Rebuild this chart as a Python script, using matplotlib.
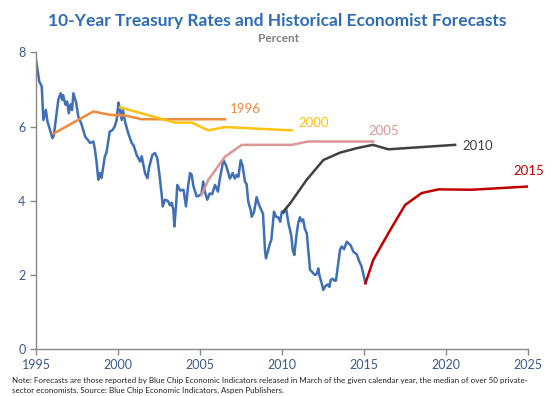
import matplotlib
matplotlib.use("Agg")
import matplotlib.pyplot as plt

plt.rcParams['font.family'] = ['Lato', 'DejaVu Sans']

# 10-year treasury yield
treasury_years = [
    1995.00, 1995.20, 1995.35, 1995.45, 1995.60, 1995.70, 1995.85, 1996.00, 1996.08, 1996.36,
    1996.50, 1996.60, 1996.65, 1996.80, 1996.90, 1997.00, 1997.10, 1997.20, 1997.28, 1997.45,
    1997.58, 1997.79, 1998.00, 1998.15, 1998.30, 1998.50, 1998.60, 1998.70, 1998.80, 1998.90,
    1999.00, 1999.10, 1999.20, 1999.30, 1999.50, 1999.65, 1999.80, 1999.92, 2000.03, 2000.10,
    2000.23, 2000.30, 2000.45, 2000.63, 2000.84, 2000.95, 2001.14, 2001.35, 2001.45, 2001.65,
    2001.80, 2001.90, 2002.10, 2002.26, 2002.40, 2002.52, 2002.67, 2002.73, 2002.87, 2003.05,
    2003.17, 2003.28, 2003.38, 2003.44, 2003.55, 2003.62, 2003.80, 2004.00, 2004.15, 2004.28,
    2004.40, 2004.50, 2004.60, 2004.80, 2005.00, 2005.10, 2005.20, 2005.30, 2005.45, 2005.60,
    2005.75, 2005.92, 2006.10, 2006.20, 2006.43, 2006.60, 2006.73, 2006.83, 2007.00, 2007.13,
    2007.25, 2007.35, 2007.49, 2007.60, 2007.75, 2007.85, 2007.95, 2008.10, 2008.16, 2008.30,
    2008.46, 2008.60, 2008.75, 2008.85, 2008.97, 2009.03, 2009.12, 2009.28, 2009.36, 2009.52,
    2009.65, 2009.80, 2009.90, 2010.00, 2010.10, 2010.26, 2010.40, 2010.58, 2010.66, 2010.76,
    2010.90, 2011.00, 2011.10, 2011.20, 2011.30, 2011.40, 2011.52, 2011.62, 2011.72, 2011.82,
    2011.95, 2012.05, 2012.15, 2012.22, 2012.30, 2012.43, 2012.53, 2012.65, 2012.80, 2012.90,
    2012.98, 2013.10, 2013.20, 2013.30, 2013.55, 2013.65, 2013.80, 2013.96, 2014.20, 2014.36,
    2014.57, 2014.73, 2014.86, 2015.01, 2015.10,
]
treasury_rates = [
    7.80, 7.22, 7.08, 6.18, 6.45, 6.14, 5.91, 5.69, 5.75, 6.72,
    6.90, 6.72, 6.85, 6.59, 6.68, 6.36, 6.60, 6.45, 6.90, 6.65,
    6.27, 6.05, 5.73, 5.65, 5.56, 5.60, 5.37, 5.02, 4.57, 4.75,
    4.62, 4.92, 5.20, 5.30, 5.87, 5.90, 6.00, 6.18, 6.65, 6.50,
    6.18, 6.45, 6.10, 5.82, 5.56, 5.50, 5.24, 5.06, 5.20, 4.75,
    4.61, 4.90, 5.24, 5.29, 5.15, 4.75, 4.16, 3.85, 4.03, 4.00,
    3.88, 3.95, 3.76, 3.31, 3.90, 4.43, 4.28, 4.30, 3.85, 4.40,
    4.75, 4.70, 4.40, 4.12, 4.15, 4.20, 4.52, 4.25, 4.03, 4.20,
    4.18, 4.43, 4.25, 4.55, 5.10, 4.95, 4.75, 4.60, 4.75, 4.60,
    4.70, 4.65, 5.10, 4.95, 4.52, 4.45, 3.98, 3.75, 3.57, 3.70,
    4.10, 3.90, 3.75, 3.65, 2.68, 2.45, 2.60, 2.86, 2.95, 3.71,
    3.57, 3.55, 3.44, 3.71, 3.67, 3.80, 3.40, 3.05, 2.68, 2.54,
    3.10, 3.40, 3.56, 3.45, 3.50, 3.25, 3.13, 2.63, 2.14, 2.10,
    2.03, 2.00, 2.05, 2.18, 1.98, 1.78, 1.60, 1.70, 1.75, 1.68,
    1.87, 1.90, 1.85, 1.85, 2.68, 2.77, 2.70, 2.90, 2.80, 2.63,
    2.56, 2.36, 2.24, 1.96, 1.78,
]

# Blue Chip forecasts
fc1996_years = [1996.06, 1998.50, 1999.50, 2000.45, 2001.45, 2006.53]
fc1996_rates = [5.81, 6.41, 6.32, 6.30, 6.20, 6.20]
fc2000_years = [2000.13, 2003.48, 2004.50, 2005.51, 2006.53, 2010.60]
fc2000_rates = [6.52, 6.11, 6.11, 5.90, 5.99, 5.90]
fc2005_years = [2005.10, 2005.52, 2006.53, 2007.55, 2010.60, 2011.60, 2015.58]
fc2005_rates = [4.16, 4.57, 5.19, 5.51, 5.51, 5.60, 5.60]
fc2010_years = [2010.09, 2010.50, 2011.52, 2012.53, 2013.55, 2014.57, 2015.55, 2016.50, 2020.57]
fc2010_rates = [3.71, 3.93, 4.57, 5.10, 5.30, 5.42, 5.51, 5.39, 5.51]
fc2015_years = [2015.10, 2015.58, 2016.50, 2017.52, 2018.53, 2019.55, 2021.58, 2025.14]
fc2015_rates = [1.78, 2.41, 3.13, 3.89, 4.21, 4.31, 4.30, 4.39]

forecasts = [
    ('1996', fc1996_years, fc1996_rates, '#F08A3C', (2006.84, 6.48)),
    ('2000', fc2000_years, fc2000_rates, '#FFC20E', (2011.0, 6.09)),
    ('2005', fc2005_years, fc2005_rates, '#D99694', (2015.26, 5.89)),
    ('2010', fc2010_years, fc2010_rates, '#404040', (2021.0, 5.48)),
    ('2015', fc2015_years, fc2015_rates, '#C00000', (2024.1, 4.81)),
]

fig = plt.figure(figsize=(5.6, 3.96), dpi=100)
ax = fig.add_axes([0.0643, 0.118, 0.878, 0.7495])

ax.plot(treasury_years, treasury_rates, color='#3F6FB5', lw=1.8, zorder=2)
for label, xs, ys, color, pos in forecasts:
    ax.plot(xs, ys, color=color, lw=1.8, zorder=3)
    ax.text(pos[0], pos[1], label, color=color, fontsize=9.5, ha='left', va='center',
            clip_on=False)

ax.set_xlim(1995, 2025)
ax.set_ylim(0, 8)
ax.set_xticks([1995, 2000, 2005, 2010, 2015, 2020, 2025])
ax.set_yticks([0, 2, 4, 6, 8])
for side in ['top', 'right']:
    ax.spines[side].set_visible(False)
for side in ['left', 'bottom']:
    ax.spines[side].set_color('#888888')
    ax.spines[side].set_linewidth(1.0)
ax.tick_params(axis='both', colors='#888888', labelcolor='#3B5A8A', labelsize=9, length=4, width=1.0)
ax.tick_params(axis='x', pad=3)

fig.text(0.495, 0.947, '10-Year Treasury Rates and Historical Economist Forecasts',
         ha='center', va='center', fontsize=12.5, fontweight='bold', color='#2E6DB4')
fig.text(0.497, 0.904, 'Percent', ha='center', va='center', fontsize=8.5,
         fontweight='bold', color='#7F7F7F')
fig.text(0.021, 0.027, 'Note: Forecasts are those reported by Blue Chip Economic Indicators released in March of the given calendar year, the median of over 50 private-\n'
         'sector economists. Source: Blue Chip Economic Indicators, Aspen Publishers.',
         ha='left', va='center', fontsize=5.75, color='#222222', linespacing=1.4)

fig.savefig('out.png', dpi=100)
